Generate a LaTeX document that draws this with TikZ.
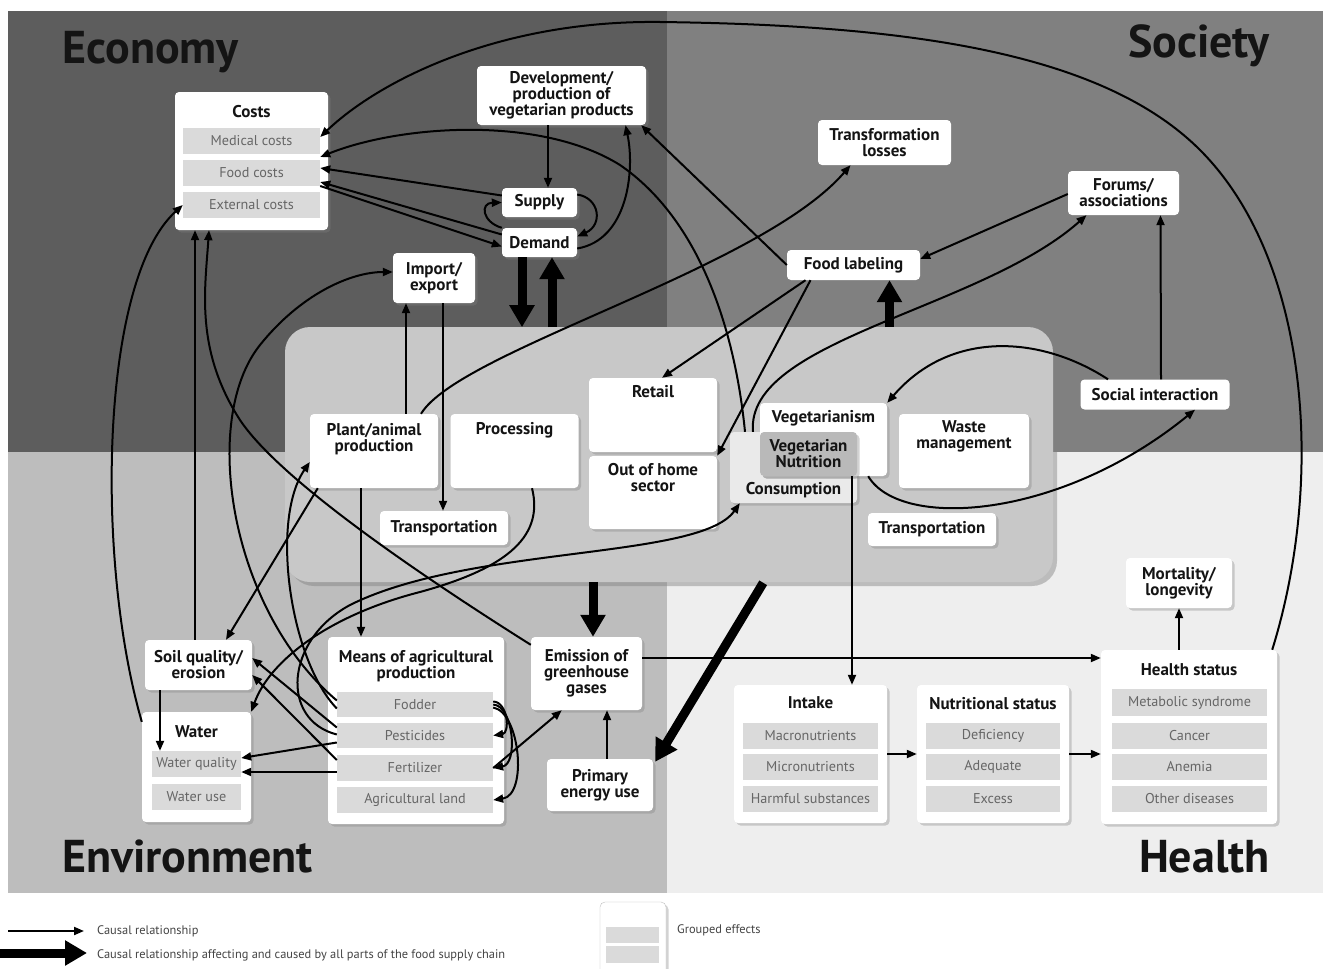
\documentclass[tikz,border=0pt]{standalone}
\usepackage{fontspec}
\setmainfont{PT Sans}
\usetikzlibrary{arrows.meta,shadows,calc}
\definecolor{econ}{HTML}{5D5D5D}
\definecolor{soc}{HTML}{808080}
\definecolor{env}{HTML}{BDBDBD}
\definecolor{hlth}{HTML}{EEEEEE}
\definecolor{chainfill}{HTML}{C8C8C8}
\definecolor{itemfill}{HTML}{DADADA}
\definecolor{itemtext}{HTML}{666666}
\definecolor{nutfill}{HTML}{B9B9B9}
\definecolor{consfill}{HTML}{EAEAEA}
\definecolor{bigtext}{HTML}{141414}
\definecolor{legtext}{HTML}{444444}
\newcommand\boxfont{\fontsize{17}{16}\selectfont\bfseries}
\newcommand\itemfont{\fontsize{14.2}{15}\selectfont}
\newcommand\bigfont{\fontsize{46}{48}\selectfont\bfseries}
\newcommand\legfont{\fontsize{12.4}{13}\selectfont}

\begin{document}
\begin{tikzpicture}[x=1pt,y=-1pt,
        box/.style={fill=white,rounded corners=4pt,inner sep=0pt,align=center,font=\boxfont,text=bigtext,
            drop shadow={shadow xshift=2.5pt,shadow yshift=-2.5pt,opacity=0.35}},
        ttl/.style={anchor=north,inner sep=0pt,align=center,font=\boxfont,text=bigtext},
        item/.style={fill=itemfill,inner sep=0pt,font=\itemfont,text=itemtext},
        arr/.style={line width=2pt,-{Triangle[length=10pt,width=8pt]}},
        fat/.style={line width=9pt,-{Triangle[length=22pt,width=24pt]}},
        quad/.style={font=\bigfont,text=bigtext,inner sep=0pt}]
        \useasboundingbox (0,0) rectangle (1323,969);
        \fill[white] (0,0) rectangle (1323,969);
        % four fields
        \fill[econ] (8,11) rectangle (667,452);
        \fill[soc] (667,11) rectangle (1323,452);
        \fill[env] (8,452) rectangle (667,893);
        \fill[hlth] (667,452) rectangle (1323,893);
        \node[quad,anchor=base west] (econlab) at (62,63) {Economy};
        \node[quad,anchor=base east] (soclab) at (1270,57) {Society};
        \node[quad,anchor=base west] (envlab) at (62,872) {Environment};
        \node[quad,anchor=base east] (hlthlab) at (1270,872) {Health};

        % food supply chain
        \node[fill=chainfill,rounded corners=25pt,minimum width=768,minimum height=255,
            drop shadow={shadow xshift=4pt,shadow yshift=-4pt,opacity=0.45}] (chain) at (669,454.5) {};
        \node[box,minimum width=128,minimum height=74,label={[ttl,yshift=-9pt]north:Plant/animal\\production}] (plant) at (374,451) {};
        \node[box,minimum width=128,minimum height=74,label={[ttl,yshift=-8pt]north:Processing}] (proc) at (514.5,451) {};
        \node[box,minimum width=128,minimum height=74,label={[ttl,yshift=-7pt]north:Retail}] (retail) at (653,415) {};
        \node[box,minimum width=128,minimum height=73,label={[ttl,yshift=-7pt]north:Out of home\\sector}] (ooh) at (653,492.5) {};
        \node[box,minimum width=128,minimum height=34] (transl) at (444,528) {Transportation};
        \node[box,fill=consfill,minimum width=127,minimum height=71,label={[ttl,anchor=south,yshift=5.5pt]south:Consumption}] (cons) at (793.5,467.5) {};
        \node[box,minimum width=127,minimum height=73,label={[ttl,yshift=-7pt]north:Vegetarianism}] (vegism) at (823.5,439.5) {};
        \node[box,fill=nutfill,minimum width=97,minimum height=44] (vnut) at (808.5,454) {Vegetarian\\Nutrition};
        \node[box,minimum width=130,minimum height=74,label={[ttl,yshift=-7pt]north:Waste\\management}] (waste) at (964,451) {};
        \node[box,minimum width=128,minimum height=33] (transr) at (932,529.5) {Transportation};

        % economy
        \node[box,minimum width=153,minimum height=138,label={[ttl,yshift=-13pt]north:Costs}] (costs) at (251.5,161) {};
        \node[item,minimum width=137,minimum height=26] (med) at (251.5,141) {Medical costs};
        \node[item,minimum width=137,minimum height=26] (food) at (251.5,173) {Food costs};
        \node[item,minimum width=137,minimum height=26] (ext) at (251.5,205) {External costs};
        \node[box,minimum width=169,minimum height=59] (dev) at (561.5,95.5) {Development/\\production of\\vegetarian products};
        \node[box,minimum width=75,minimum height=29] (supply) at (539.5,202.5) {Supply};
        \node[box,minimum width=75,minimum height=29] (demand) at (539.5,242.5) {Demand};
        \node[box,minimum width=82,minimum height=50] (imp) at (434,278) {Import/\\export};

        % society
        \node[box,minimum width=133,minimum height=45] (trans) at (884.5,142.5) {Transformation\\losses};
        \node[box,minimum width=111,minimum height=44] (forums) at (1123.5,193) {Forums/\\associations};
        \node[box,minimum width=133,minimum height=30] (flabel) at (853.5,265) {Food labeling};
        \node[box,minimum width=149,minimum height=30] (social) at (1155,394.5) {Social interaction};

        % environment
        \node[box,minimum width=107,minimum height=50] (soil) at (198.5,665) {Soil quality/\\erosion};
        \node[box,minimum width=109,minimum height=110,label={[ttl,yshift=-14pt]north:Water}] (water) at (196.5,767) {};
        \node[item,minimum width=89,minimum height=26] (wq) at (196.5,764) {Water quality};
        \node[item,minimum width=89,minimum height=26] (wu) at (196.5,796.5) {Water use};
        \node[box,minimum width=176,minimum height=187,label={[ttl,yshift=-13pt]north:Means of agricultural\\production}] (means) at (416,730.5) {};
        \node[item,minimum width=156,minimum height=25] (fodder) at (415,704.5) {Fodder};
        \node[item,minimum width=156,minimum height=25] (pest) at (415,735.5) {Pesticides};
        \node[item,minimum width=156,minimum height=26] (fert) at (415,768) {Fertilizer};
        \node[item,minimum width=156,minimum height=26] (agri) at (415,800) {Agricultural land};
        \node[box,minimum width=111,minimum height=73] (ghg) at (586.5,673.5) {Emission of\\greenhouse\\gases};
        \node[box,minimum width=106,minimum height=52] (primary) at (600,785) {Primary\\energy use};

        % health
        \node[box,minimum width=106,minimum height=50] (mort) at (1179,583) {Mortality/\\longevity};
        \node[box,minimum width=176,minimum height=174,label={[ttl,yshift=-14pt]north:Health status}] (health) at (1189,737) {};
        \node[item,minimum width=155,minimum height=27] (metab) at (1189.5,702.5) {Metabolic syndrome};
        \node[item,minimum width=155,minimum height=26] (cancer) at (1189.5,735.5) {Cancer};
        \node[item,minimum width=155,minimum height=26] (anemia) at (1189.5,767) {Anemia};
        \node[item,minimum width=155,minimum height=26] (other) at (1189.5,799) {Other diseases};
        \node[box,minimum width=153,minimum height=138,label={[ttl,yshift=-12pt]north:Intake}] (intake) at (810.5,754) {};
        \node[item,minimum width=135,minimum height=26] (macro) at (810.5,736) {Macronutrients};
        \node[item,minimum width=135,minimum height=26] (micro) at (810.5,767) {Micronutrients};
        \node[item,minimum width=135,minimum height=26] (harm) at (810.5,799) {Harmful substances};
        \node[box,minimum width=152,minimum height=138,label={[ttl,yshift=-12pt]north:Nutritional status}] (nutr) at (993,754) {};
        \node[item,minimum width=134,minimum height=26] (defi) at (993,736) {Deficiency};
        \node[item,minimum width=134,minimum height=26] (adeq) at (993,767) {Adequate};
        \node[item,minimum width=134,minimum height=26] (exc) at (993,799) {Excess};

        % links in economy
        \draw[arr] ([xshift=-5pt]health.north east) .. controls (1325,480) and (1310,260) .. (1200,150) .. controls (1100,50) and (900,25) .. (660,22) .. controls (500,20) and (380,80) .. ([yshift=4pt]med.east);
        \draw[arr] ([xshift=-48.5pt]cons.north) .. controls (735,330) and (700,220) .. (620,165) .. controls (540,115) and (400,125) .. ([yshift=16pt]food.east);
        \draw[arr] ([yshift=7pt]supply.west) -- ([yshift=5pt]food.east);
        \draw[arr] ([yshift=8pt]demand.west) -- ([yshift=-9pt]food.east);
        \draw[arr] ([yshift=-13pt]food.east) -- ([yshift=-4pt]demand.west);
        \draw[arr] ([xshift=-13.5pt]dev.south) -- ([xshift=8.5pt]supply.north);
        \draw[arr] (demand.north west) .. controls (482,222) and (480,203) .. (supply.west);
        \draw[arr] ([yshift=8pt]supply.east) .. controls (600,198) and (603,225) .. ([yshift=6pt]demand.east);
        \draw[arr] ([yshift=-6pt]demand.east) .. controls (628,240) and (635,170) .. ([xshift=64pt]dev.south);
        \draw[arr] (flabel.west) -- ([xshift=-5pt]dev.south east);
        \draw[fat] ([xshift=-17.5pt]demand.south) -- +(0,70);
        \draw[fat] ($(demand.south)+(12.5,70)$) -- ([xshift=12.5pt]demand.south);
        \draw[arr] ([xshift=32pt]plant.north) -- ([xshift=-28pt]imp.south);
        \draw[arr] ([xshift=9pt]imp.south) -- ([xshift=-1pt]transl.north);
        \draw[arr] ([yshift=4pt]fodder.west) .. controls (230,610) and (200,420) .. (260,345) .. controls (300,295) and (350,272) .. ([yshift=6pt]imp.west);
        \draw[arr] ([yshift=-8pt]ghg.north west) .. controls (420,575) and (280,480) .. (240,420) .. controls (195,350) and (205,290) .. ([xshift=-42.5pt]costs.south);
        \draw[arr] ([xshift=-3.5pt]soil.north) -- ([xshift=-56.5pt]costs.south);
        \draw[arr] ([yshift=-10pt]water.north west) .. controls (95,560) and (100,280) .. (ext.west);

        % links in society
        \draw[arr] ([xshift=47pt]plant.north) .. controls (460,350) and (760,270) .. ([xshift=-34pt]trans.south);
        \draw[arr] ([yshift=-1pt]forums.west) -- ([yshift=6pt]flabel.east);
        \draw[arr] ([xshift=6pt]social.north) -- ([xshift=37pt]forums.south);
        \draw[arr] ([xshift=-47pt]social.north) .. controls (1040,335) and (950,330) .. (vegism.north east);
        \draw[arr] ([xshift=-19pt]vegism.south east) .. controls (900,530) and (1060,520) .. ([xshift=40pt]social.south);
        \draw[arr] ([xshift=-40.5pt]cons.north) .. controls (745,340) and (980,310) .. ([xshift=-37pt]forums.south);
        \draw[arr] ([xshift=-48pt]flabel.south) -- ([xshift=9pt]retail.north);
        \draw[arr] ([xshift=-43pt]flabel.south) -- (ooh.north east);
        \draw[fat] ($(flabel.south)+(36,47)$) -- ([xshift=36pt]flabel.south);

        % links in environment
        \draw[arr] ([yshift=-4pt]fodder.west) .. controls (290,660) and (270,520) .. ([yshift=-11pt]plant.west);
        \draw[arr] ([xshift=-13pt]plant.south) -- ([xshift=-55pt]means.north);
        \draw[arr] ([xshift=8pt]plant.south west) -- ([xshift=27.5pt]soil.north);
        \draw[arr] ([xshift=-38.5pt]soil.south) -- ([xshift=-36.5pt]wq.north);
        \draw[arr] ([yshift=8pt]pest.west) -- ([yshift=7pt]soil.east);
        \draw[arr] ([yshift=8pt]fert.west) -- ([yshift=-10pt]soil.east);
        \draw[arr] ([yshift=-7pt]pest.west) -- ([yshift=6pt]wq.east);
        \draw[arr] ([yshift=-4pt]fert.west) -- ([yshift=-8pt]wq.east);
        \draw[arr] ([yshift=1pt]pest.west) .. controls (280,720) and (285,640) .. (350,605) .. controls (470,545) and (700,560) .. ([xshift=10pt]cons.south west);
        \draw[arr] ([xshift=17.5pt]proc.south) .. controls (545,540) and (500,570) .. (420,592) .. controls (330,615) and (270,660) .. (water.north east);
        \draw[arr] ([yshift=3pt]fodder.east) .. controls (508,702) and (510,733) .. (pest.east);
        \draw[arr] (fodder.east) .. controls (514,706) and (518,764) .. (fert.east);
        \draw[arr] ([yshift=-3pt]fodder.east) .. controls (520,712) and (528,795) .. (agri.east);
        \draw[arr] (fert.east) -- ([xshift=31pt]ghg.south west);
        \draw[arr] ([xshift=7pt]primary.north) -- ([xshift=20.5pt]ghg.south);
        \draw[fat] ($(ghg.north)+(6.5,-55)$) -- ([xshift=6.5pt]ghg.north);
        \draw[fat] ($(primary.north east)+(110,-176)$) -- ([xshift=2pt,yshift=-3pt]primary.north east);

        % links in health
        \draw[arr] ([yshift=15.5pt]ghg.east) -- ([yshift=79pt]health.west);
        \draw[arr] ([xshift=43.5pt]vnut.south) -- ([xshift=41.5pt]intake.north);
        \draw[arr] (intake.east) -- (nutr.west);
        \draw[arr] (nutr.east) -- ([yshift=-17pt]health.west);
        \draw[arr] ([xshift=-10pt]health.north) -- (mort.south);

        % legend
        \coordinate (leg1) at (8,931);
        \node[anchor=west,inner sep=0pt,font=\legfont,text=legtext] (leg1t) at (97,931) {Causal relationship};
        \draw[arr] (leg1) -- ([xshift=-13pt]leg1t.west);
        \coordinate (leg2) at (0,953);
        \node[anchor=west,inner sep=0pt,font=\legfont,text=legtext] (leg2t) at (97,955) {Causal relationship affecting and caused by all parts of the food supply chain};
        \draw[fat] (leg2) -- ([xshift=-10pt,yshift=2pt]leg2t.west);
        \node[box,draw=black!25,minimum width=66,minimum height=80,rounded corners=5pt] (legbox) at (633,942) {};
        \node[item,minimum width=53,minimum height=16] (legbar1) at (632.5,935) {};
        \node[item,minimum width=53,minimum height=17] (legbar2) at (632.5,954.5) {};
        \node[anchor=west,inner sep=0pt,font=\legfont,text=legtext] (leg3t) at (677,930) {Grouped effects};
\end{tikzpicture}
\end{document}
